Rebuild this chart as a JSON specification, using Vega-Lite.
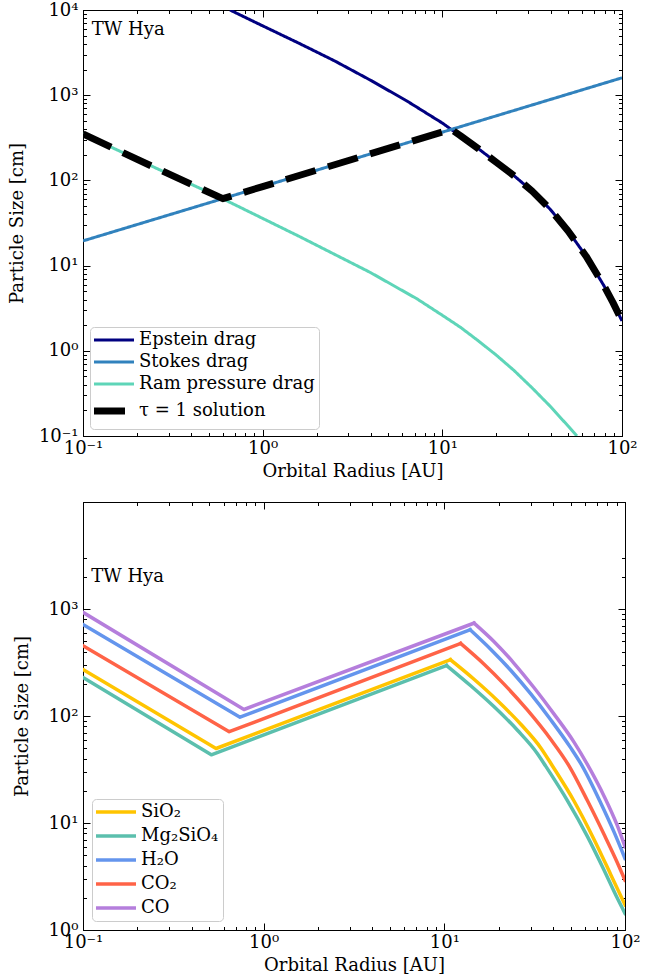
{
  "$schema": "https://vega.github.io/schema/vega-lite/v6.json",
  "padding": {"left": 7, "top": 0, "right": 3, "bottom": 0},
  "background": "white",
  "config": {
    "font": "DejaVu Serif",
    "view": {"stroke": "black", "strokeWidth": 1},
    "axis": {
      "labelFont": "DejaVu Serif", "labelFontSize": 18, "labelColor": "black",
      "titleFont": "DejaVu Serif", "titleFontSize": 18, "titleFontWeight": "normal", "titleColor": "black",
      "domainColor": "black", "tickColor": "black", "grid": false,
      "labelFlush": false, "labelOverlap": false, "tickWidth": 1
    },
    "legend": {
      "labelFont": "DejaVu Serif", "labelFontSize": 18, "labelColor": "black",
      "fillColor": "white", "strokeColor": "#cccccc", "cornerRadius": 4,
      "symbolType": "M-1.8,0H6.2", "symbolSize": 100, "labelOffset": 27, "labelLimit": 400
    },
    "text": {"font": "DejaVu Serif"}
  },
  "datasets": {
    "top": [
      {"series": "Epstein drag", "r": 0.658, "s": 10000},
      {"series": "Epstein drag", "r": 1, "s": 6516},
      {"series": "Epstein drag", "r": 1.585, "s": 4090},
      {"series": "Epstein drag", "r": 2.512, "s": 2530},
      {"series": "Epstein drag", "r": 3.981, "s": 1500},
      {"series": "Epstein drag", "r": 6.31, "s": 862},
      {"series": "Epstein drag", "r": 10, "s": 471},
      {"series": "Epstein drag", "r": 11.2, "s": 397},
      {"series": "Epstein drag", "r": 12.59, "s": 336},
      {"series": "Epstein drag", "r": 15.85, "s": 236},
      {"series": "Epstein drag", "r": 19.95, "s": 163},
      {"series": "Epstein drag", "r": 25.12, "s": 113},
      {"series": "Epstein drag", "r": 31.62, "s": 74.8},
      {"series": "Epstein drag", "r": 39.81, "s": 45.9},
      {"series": "Epstein drag", "r": 50.12, "s": 25.5},
      {"series": "Epstein drag", "r": 63.1, "s": 12.9},
      {"series": "Epstein drag", "r": 79.43, "s": 5.78},
      {"series": "Epstein drag", "r": 89.1, "s": 3.68},
      {"series": "Epstein drag", "r": 100, "s": 2.24},
      {"series": "Stokes drag", "r": 0.1, "s": 19.5},
      {"series": "Stokes drag", "r": 0.6, "s": 61.1},
      {"series": "Stokes drag", "r": 1, "s": 84.7},
      {"series": "Stokes drag", "r": 11.2, "s": 396},
      {"series": "Stokes drag", "r": 100, "s": 1600},
      {"series": "Ram pressure drag", "r": 0.1, "s": 351},
      {"series": "Ram pressure drag", "r": 0.251, "s": 141.5},
      {"series": "Ram pressure drag", "r": 0.6, "s": 60.8},
      {"series": "Ram pressure drag", "r": 1.585, "s": 22.2},
      {"series": "Ram pressure drag", "r": 3.98, "s": 8.29},
      {"series": "Ram pressure drag", "r": 7.23, "s": 4.07},
      {"series": "Ram pressure drag", "r": 10, "s": 2.61},
      {"series": "Ram pressure drag", "r": 12.6, "s": 1.89},
      {"series": "Ram pressure drag", "r": 15.85, "s": 1.31},
      {"series": "Ram pressure drag", "r": 19.95, "s": 0.891},
      {"series": "Ram pressure drag", "r": 25.1, "s": 0.586},
      {"series": "Ram pressure drag", "r": 31.6, "s": 0.367},
      {"series": "Ram pressure drag", "r": 39.8, "s": 0.224},
      {"series": "Ram pressure drag", "r": 50.1, "s": 0.131},
      {"series": "Ram pressure drag", "r": 56.1, "s": 0.1},
      {"series": "τ = 1 solution", "r": 0.1, "s": 351},
      {"series": "τ = 1 solution", "r": 0.251, "s": 141.5},
      {"series": "τ = 1 solution", "r": 0.6, "s": 61},
      {"series": "τ = 1 solution", "r": 1, "s": 84.7},
      {"series": "τ = 1 solution", "r": 11.2, "s": 397},
      {"series": "τ = 1 solution", "r": 12.59, "s": 336},
      {"series": "τ = 1 solution", "r": 15.85, "s": 236},
      {"series": "τ = 1 solution", "r": 19.95, "s": 163},
      {"series": "τ = 1 solution", "r": 25.12, "s": 113},
      {"series": "τ = 1 solution", "r": 31.62, "s": 74.8},
      {"series": "τ = 1 solution", "r": 39.81, "s": 45.9},
      {"series": "τ = 1 solution", "r": 50.12, "s": 25.5},
      {"series": "τ = 1 solution", "r": 63.1, "s": 12.9},
      {"series": "τ = 1 solution", "r": 79.43, "s": 5.78},
      {"series": "τ = 1 solution", "r": 89.1, "s": 3.68},
      {"series": "τ = 1 solution", "r": 100, "s": 2.24}
    ],
    "bottom": [
      {"species": "SiO₂", "seg": "a", "r": 0.1, "s": 272},
      {"species": "SiO₂", "seg": "a", "r": 0.545, "s": 49.7},
      {"species": "SiO₂", "seg": "a", "r": 10.8, "s": 336},
      {"species": "SiO₂", "seg": "b", "r": 10.8, "s": 336},
      {"species": "SiO₂", "seg": "b", "r": 14.6, "s": 220.6},
      {"species": "SiO₂", "seg": "b", "r": 19.6, "s": 140.5},
      {"species": "SiO₂", "seg": "b", "r": 26.5, "s": 83.7},
      {"species": "SiO₂", "seg": "b", "r": 34.2, "s": 50.3},
      {"species": "SiO₂", "seg": "b", "r": 39.6, "s": 34.3},
      {"species": "SiO₂", "seg": "b", "r": 52.2, "s": 16.05},
      {"species": "SiO₂", "seg": "b", "r": 67.3, "s": 7.06},
      {"species": "SiO₂", "seg": "b", "r": 83.3, "s": 3.31},
      {"species": "SiO₂", "seg": "b", "r": 100, "s": 1.72},
      {"species": "Mg₂SiO₄", "seg": "a", "r": 0.1, "s": 229},
      {"species": "Mg₂SiO₄", "seg": "a", "r": 0.513, "s": 43.4},
      {"species": "Mg₂SiO₄", "seg": "a", "r": 10.3, "s": 296},
      {"species": "Mg₂SiO₄", "seg": "b", "r": 10.3, "s": 296},
      {"species": "Mg₂SiO₄", "seg": "b", "r": 14.0, "s": 191.6},
      {"species": "Mg₂SiO₄", "seg": "b", "r": 18.8, "s": 122.5},
      {"species": "Mg₂SiO₄", "seg": "b", "r": 25.4, "s": 73.6},
      {"species": "Mg₂SiO₄", "seg": "b", "r": 32.7, "s": 44.7},
      {"species": "Mg₂SiO₄", "seg": "b", "r": 36.4, "s": 34.0},
      {"species": "Mg₂SiO₄", "seg": "b", "r": 48.0, "s": 16.2},
      {"species": "Mg₂SiO₄", "seg": "b", "r": 61.8, "s": 7.54},
      {"species": "Mg₂SiO₄", "seg": "b", "r": 76.5, "s": 3.64},
      {"species": "Mg₂SiO₄", "seg": "b", "r": 90.6, "s": 1.99},
      {"species": "Mg₂SiO₄", "seg": "b", "r": 100, "s": 1.43},
      {"species": "H₂O", "seg": "a", "r": 0.1, "s": 716},
      {"species": "H₂O", "seg": "a", "r": 0.74, "s": 97.5},
      {"species": "H₂O", "seg": "a", "r": 13.9, "s": 640},
      {"species": "H₂O", "seg": "b", "r": 13.9, "s": 640},
      {"species": "H₂O", "seg": "b", "r": 18.1, "s": 419},
      {"species": "H₂O", "seg": "b", "r": 23.3, "s": 267.6},
      {"species": "H₂O", "seg": "b", "r": 30.1, "s": 160.7},
      {"species": "H₂O", "seg": "b", "r": 38.8, "s": 92.2},
      {"species": "H₂O", "seg": "b", "r": 50.0, "s": 50.6},
      {"species": "H₂O", "seg": "b", "r": 58.1, "s": 33.9},
      {"species": "H₂O", "seg": "b", "r": 73.3, "s": 15.5},
      {"species": "H₂O", "seg": "b", "r": 86.9, "s": 8.27},
      {"species": "H₂O", "seg": "b", "r": 100, "s": 4.66},
      {"species": "CO₂", "seg": "a", "r": 0.1, "s": 454},
      {"species": "CO₂", "seg": "a", "r": 0.645, "s": 71.3},
      {"species": "CO₂", "seg": "a", "r": 12.3, "s": 477},
      {"species": "CO₂", "seg": "b", "r": 12.3, "s": 477},
      {"species": "CO₂", "seg": "b", "r": 16.6, "s": 304.8},
      {"species": "CO₂", "seg": "b", "r": 21.4, "s": 198.6},
      {"species": "CO₂", "seg": "b", "r": 28.8, "s": 113.9},
      {"species": "CO₂", "seg": "b", "r": 38.8, "s": 60.6},
      {"species": "CO₂", "seg": "b", "r": 49.0, "s": 34.2},
      {"species": "CO₂", "seg": "b", "r": 61.8, "s": 16.3},
      {"species": "CO₂", "seg": "b", "r": 76.5, "s": 7.85},
      {"species": "CO₂", "seg": "b", "r": 90.6, "s": 4.28},
      {"species": "CO₂", "seg": "b", "r": 100, "s": 2.92},
      {"species": "CO", "seg": "a", "r": 0.1, "s": 930},
      {"species": "CO", "seg": "a", "r": 0.778, "s": 115},
      {"species": "CO", "seg": "a", "r": 14.6, "s": 738},
      {"species": "CO", "seg": "b", "r": 14.6, "s": 738},
      {"species": "CO", "seg": "b", "r": 18.8, "s": 497},
      {"species": "CO", "seg": "b", "r": 24.3, "s": 311},
      {"species": "CO", "seg": "b", "r": 31.4, "s": 183.5},
      {"species": "CO", "seg": "b", "r": 40.4, "s": 104.7},
      {"species": "CO", "seg": "b", "r": 52.2, "s": 57.0},
      {"species": "CO", "seg": "b", "r": 64.6, "s": 31.0},
      {"species": "CO", "seg": "b", "r": 76.5, "s": 17.9},
      {"species": "CO", "seg": "b", "r": 90.6, "s": 9.48},
      {"species": "CO", "seg": "b", "r": 100, "s": 6.01}
    ],
    "labelTop": [{"t": "TW Hya", "r": 0.112, "s": 5800}],
    "labelBottom": [{"t": "TW Hya", "r": 0.111, "s": 2000}]
  },
  "align": "none",
  "spacing": 20,
  "resolve": {
    "scale": {"x": "independent", "y": "independent", "color": "independent", "strokeDash": "independent"},
    "legend": {"color": "independent", "strokeDash": "independent"}
  },
  "vconcat": [
    {
      "width": 539,
      "height": 426,
      "layer": [
        {
          "data": {"name": "top"},
          "mark": {"type": "line", "strokeCap": "butt", "strokeJoin": "round", "clip": true},
          "encoding": {
            "x": {"field": "r", "type": "quantitative",
              "scale": {"type": "log", "domain": [0.1, 100]},
              "axis": {"title": "Orbital Radius [AU]", "orient": "bottom",
                "values": [0.1,0.2,0.3,0.4,0.5,0.6,0.7,0.8,0.9,1,2,3,4,5,6,7,8,9,10,20,30,40,50,60,70,80,90,100],
                "labelExpr": "abs(log(datum.value)/LN10 - round(log(datum.value)/LN10)) < 0.001 ? ['10⁻¹','10⁰','10¹','10²','10³','10⁴'][round(log(datum.value)/LN10)+1] : ''",
                "tickSize": {"condition": {"test": "abs(log(datum.value)/LN10 - round(log(datum.value)/LN10)) < 0.001", "value": -7}, "value": -3.5},
                "labelPadding": 10, "titlePadding": 2}},
            "y": {"field": "s", "type": "quantitative",
              "scale": {"type": "log", "domain": [0.1, 10000]},
              "axis": {"title": "Particle Size [cm]", "orient": "left",
                "values": [0.1,0.2,0.3,0.4,0.5,0.6,0.7,0.8,0.9,1,2,3,4,5,6,7,8,9,10,20,30,40,50,60,70,80,90,100,200,300,400,500,600,700,800,900,1000,2000,3000,4000,5000,6000,7000,8000,9000,10000],
                "labelExpr": "abs(log(datum.value)/LN10 - round(log(datum.value)/LN10)) < 0.001 ? ['10⁻¹','10⁰','10¹','10²','10³','10⁴'][round(log(datum.value)/LN10)+1] : ''",
                "tickSize": {"condition": {"test": "abs(log(datum.value)/LN10 - round(log(datum.value)/LN10)) < 0.001", "value": -7}, "value": -3.5},
                "labelPadding": 12, "titlePadding": 12}},
            "color": {"field": "series", "type": "nominal",
              "scale": {"domain": ["Epstein drag", "Stokes drag", "Ram pressure drag", "τ = 1 solution"],
                "range": ["#000080", "#3182bd", "#5ed5b8", "#000000"]},
              "legend": {"title": null, "orient": "bottom-left", "offset": 7, "padding": 4, "rowPadding": 4,
                "encode": {"symbols": {"update": {"strokeWidth": {"signal": "datum.value === 'τ = 1 solution' ? 7 : 3"}}}}}},
            "strokeWidth": {"condition": {"test": "datum.series === 'τ = 1 solution'", "value": 7}, "value": 3},
            "strokeDash": {"field": "series", "type": "nominal",
              "scale": {"domain": ["Epstein drag", "Stokes drag", "Ram pressure drag", "τ = 1 solution"],
                "range": [[1, 0], [1, 0], [1, 0], [31, 13]]},
              "legend": {"title": null, "orient": "bottom-left", "offset": 7, "padding": 4, "rowPadding": 4,
                "encode": {"symbols": {"update": {"strokeWidth": {"signal": "datum.value === 'τ = 1 solution' ? 7 : 3"}}}}}}
          }
        },
        {
          "data": {"name": "top"},
          "mark": {"type": "point", "opacity": 0},
          "encoding": {
            "x": {"field": "r", "type": "quantitative",
              "axis": {"title": null, "orient": "top", "labels": false,
                "values": [0.1,0.2,0.3,0.4,0.5,0.6,0.7,0.8,0.9,1,2,3,4,5,6,7,8,9,10,20,30,40,50,60,70,80,90,100],
                "tickSize": {"condition": {"test": "abs(log(datum.value)/LN10 - round(log(datum.value)/LN10)) < 0.001", "value": -7}, "value": -3.5}}},
            "y": {"field": "s", "type": "quantitative",
              "axis": {"title": null, "orient": "right", "labels": false,
                "values": [0.1,0.2,0.3,0.4,0.5,0.6,0.7,0.8,0.9,1,2,3,4,5,6,7,8,9,10,20,30,40,50,60,70,80,90,100,200,300,400,500,600,700,800,900,1000,2000,3000,4000,5000,6000,7000,8000,9000,10000],
                "tickSize": {"condition": {"test": "abs(log(datum.value)/LN10 - round(log(datum.value)/LN10)) < 0.001", "value": -7}, "value": -3.5}}}
          }
        },
        {
          "data": {"name": "labelTop"},
          "mark": {"type": "text", "align": "left", "baseline": "middle", "fontSize": 18, "color": "black"},
          "encoding": {
            "x": {"field": "r", "type": "quantitative", "axis": null},
            "y": {"field": "s", "type": "quantitative", "axis": null},
            "text": {"field": "t"}
          }
        }
      ],
      "resolve": {"axis": {"x": "independent", "y": "independent"}}
    },
    {
      "width": 542,
      "height": 428,
      "layer": [
        {
          "data": {"name": "bottom"},
          "transform": [{"filter": "datum.seg === 'a'"}],
          "mark": {"type": "line", "strokeWidth": 3.5, "strokeCap": "square", "strokeJoin": "round", "clip": true},
          "encoding": {
            "x": {"field": "r", "type": "quantitative",
              "scale": {"type": "log", "domain": [0.1, 100]},
              "axis": {"title": "Orbital Radius [AU]", "orient": "bottom",
                "values": [0.1,0.2,0.3,0.4,0.5,0.6,0.7,0.8,0.9,1,2,3,4,5,6,7,8,9,10,20,30,40,50,60,70,80,90,100],
                "labelExpr": "abs(log(datum.value)/LN10 - round(log(datum.value)/LN10)) < 0.001 ? ['10⁻¹','10⁰','10¹','10²','10³','10⁴'][round(log(datum.value)/LN10)+1] : ''",
                "tickSize": {"condition": {"test": "abs(log(datum.value)/LN10 - round(log(datum.value)/LN10)) < 0.001", "value": -7}, "value": -3.5},
                "labelPadding": 10, "titlePadding": 2}},
            "y": {"field": "s", "type": "quantitative",
              "scale": {"type": "log", "domain": [1, 3000]},
              "axis": {"title": "Particle Size [cm]", "orient": "left",
                "values": [1,2,3,4,5,6,7,8,9,10,20,30,40,50,60,70,80,90,100,200,300,400,500,600,700,800,900,1000,2000,3000],
                "labelExpr": "abs(log(datum.value)/LN10 - round(log(datum.value)/LN10)) < 0.001 ? ['10⁻¹','10⁰','10¹','10²','10³','10⁴'][round(log(datum.value)/LN10)+1] : ''",
                "tickSize": {"condition": {"test": "abs(log(datum.value)/LN10 - round(log(datum.value)/LN10)) < 0.001", "value": -7}, "value": -3.5},
                "labelPadding": 12, "titlePadding": 16}},
            "color": {"field": "species", "type": "nominal",
              "scale": {"domain": ["SiO₂", "Mg₂SiO₄", "H₂O", "CO₂", "CO"],
                "range": ["#ffc400", "#5bbfad", "#6495ed", "#ff6347", "#b57edc"]},
              "legend": {"title": null, "orient": "bottom-left", "offset": 9, "padding": 4, "rowPadding": 6, "symbolStrokeWidth": 3.5}}
          }
        },
        {
          "data": {"name": "bottom"},
          "transform": [{"filter": "datum.seg === 'b'"}],
          "mark": {"type": "line", "strokeWidth": 3.5, "strokeCap": "square", "strokeJoin": "round", "interpolate": "monotone", "clip": true},
          "encoding": {
            "x": {"field": "r", "type": "quantitative", "axis": null},
            "y": {"field": "s", "type": "quantitative", "axis": null},
            "color": {"field": "species", "type": "nominal"}
          }
        },
        {
          "data": {"name": "bottom"},
          "mark": {"type": "point", "opacity": 0},
          "encoding": {
            "x": {"field": "r", "type": "quantitative",
              "axis": {"title": null, "orient": "top", "labels": false,
                "values": [0.1,0.2,0.3,0.4,0.5,0.6,0.7,0.8,0.9,1,2,3,4,5,6,7,8,9,10,20,30,40,50,60,70,80,90,100],
                "tickSize": {"condition": {"test": "abs(log(datum.value)/LN10 - round(log(datum.value)/LN10)) < 0.001", "value": -7}, "value": -3.5}}},
            "y": {"field": "s", "type": "quantitative",
              "axis": {"title": null, "orient": "right", "labels": false,
                "values": [1,2,3,4,5,6,7,8,9,10,20,30,40,50,60,70,80,90,100,200,300,400,500,600,700,800,900,1000,2000,3000],
                "tickSize": {"condition": {"test": "abs(log(datum.value)/LN10 - round(log(datum.value)/LN10)) < 0.001", "value": -7}, "value": -3.5}}}
          }
        },
        {
          "data": {"name": "labelBottom"},
          "mark": {"type": "text", "align": "left", "baseline": "middle", "fontSize": 18, "color": "black"},
          "encoding": {
            "x": {"field": "r", "type": "quantitative", "axis": null},
            "y": {"field": "s", "type": "quantitative", "axis": null},
            "text": {"field": "t"}
          }
        }
      ],
      "resolve": {"axis": {"x": "independent", "y": "independent"}}
    }
  ]
}
